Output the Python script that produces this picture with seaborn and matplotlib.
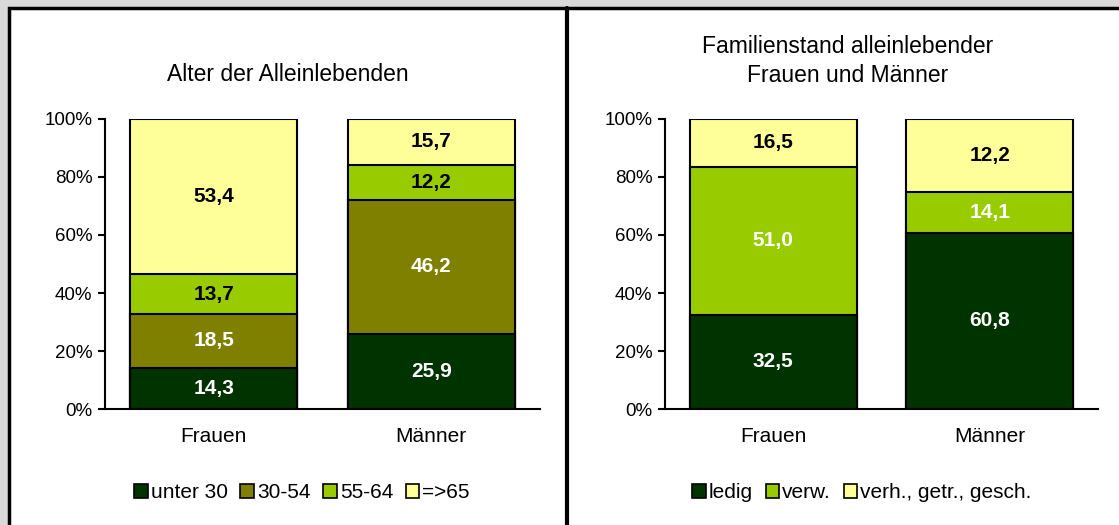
import matplotlib
matplotlib.use("Agg")
import matplotlib.pyplot as plt
import matplotlib.patches as mpatches
import seaborn as sns
import numpy as np
import pandas as pd

# chart data
categories = ["Frauen", "Männer"]

age_groups = ["unter 30", "30-54", "55-64", "=>65"]
age_values = {
    "unter 30": [14.3, 25.9],
    "30-54": [18.5, 46.2],
    "55-64": [13.7, 12.2],
    "=>65": [53.4, 15.7],
}

fam_groups = ["ledig", "verw.", "verh., getr., gesch."]
# segment heights as drawn in the original (top segment of Männer fills up to 100%)
fam_values = {
    "ledig": [32.5, 60.8],
    "verw.": [51.0, 14.1],
    "verh., getr., gesch.": [16.5, 25.1],
}
# labels as printed in the original
fam_labels = {
    "ledig": ["32,5", "60,8"],
    "verw.": ["51,0", "14,1"],
    "verh., getr., gesch.": ["16,5", "12,2"],
}

age_colors = ["#003300", "#808000", "#99cc00", "#ffff99"]
fam_colors = ["#003300", "#99cc00", "#ffff99"]
age_text = ["white", "white", "black", "black"]
fam_text = ["white", "white", "black"]

sns.set_style("white")
plt.rcParams["font.family"] = ["Liberation Sans", "DejaVu Sans"]
plt.rcParams["font.size"] = 13
plt.rcParams["text.color"] = "black"
plt.rcParams["xtick.color"] = "black"
plt.rcParams["ytick.color"] = "black"

W, H = 1119, 525
fig = plt.figure(figsize=(W / 100, H / 100), dpi=100, facecolor="#d9d9d9")

# white panels with black frame
fig.patches.append(mpatches.Rectangle((9 / W, -0.05), 1.1, 1 - 8 / H + 0.05,
                                      transform=fig.transFigure, facecolor="white",
                                      edgecolor="black", linewidth=2.5, zorder=-10))
fig.add_artist(plt.Line2D([567 / W, 567 / W], [0, 1 - 8 / H], transform=fig.transFigure,
                          color="black", linewidth=3, zorder=-5))


def stacked(ax, groups, values, colors, txtcolors, labels=None):
    df = pd.DataFrame(values, index=categories)[groups]
    cum = df.cumsum(axis=1)
    # draw from top down so lower segments overlay
    for g, c in reversed(list(zip(groups, colors))):
        sns.barplot(x=categories, y=cum[g].values, color=c, saturation=1, width=0.77,
                    edgecolor="black", linewidth=1.5, ax=ax)
    for gi, g in enumerate(groups):
        for i, cat in enumerate(categories):
            v = df.loc[cat, g]
            mid = cum.loc[cat, g] - v / 2
            lab = labels[g][i] if labels else f"{v:.1f}".replace(".", ",")
            ax.text(i, mid, lab, ha="center", va="center", fontweight="bold",
                    color=txtcolors[gi], fontsize=15)
    ax.set_xlim(-0.5, 1.5)
    ax.set_ylim(0, 100)
    ax.set_yticks(np.arange(0, 101, 20))
    ax.set_yticklabels([f"{t}%" for t in range(0, 101, 20)])
    ax.set_xticks([-0.5, 0.5, 1.5], minor=True)
    ax.tick_params(axis="x", which="major", length=0, pad=13, labelsize=15)
    ax.tick_params(axis="x", which="minor", direction="inout", length=10, width=1.5)
    ax.tick_params(axis="y", direction="out", length=5, width=1.5, pad=4, left=True,
                   labelsize=13.5)
    for s in ["top", "right"]:
        ax.spines[s].set_visible(False)
    for s in ["left", "bottom"]:
        ax.spines[s].set_color("black")
        ax.spines[s].set_linewidth(1.5)
    ax.set_xlabel("")
    ax.set_ylabel("")
    ax.patch.set_alpha(0)


bot = (H - 409) / H
hgt = 290 / H
ax1 = fig.add_axes([105 / W, bot, 435 / W, hgt])
ax2 = fig.add_axes([665 / W, bot, 433 / W, hgt])

stacked(ax1, age_groups, age_values, age_colors, age_text)
stacked(ax2, fam_groups, fam_values, fam_colors, fam_text, fam_labels)

fig.text(288 / W, 1 - 75 / H, "Alter der Alleinlebenden", ha="center", va="center", fontsize=16.5)
fig.text(848 / W, 1 - 61 / H, "Familienstand alleinlebender\nFrauen und Männer", ha="center",
         va="center", fontsize=16.5, linespacing=1.35)


def legend(groups, colors, xc):
    handles = [mpatches.Patch(facecolor=c, edgecolor="black", linewidth=1.2, label=g)
               for g, c in zip(groups, colors)]
    fig.legend(handles=handles, loc="center", bbox_to_anchor=(xc / W, 1 - 493 / H),
               ncol=len(groups), frameon=False, handlelength=0.65, handleheight=0.65,
               handletextpad=0.15, columnspacing=0.6, fontsize=15)


legend(age_groups, age_colors, 302)
legend(fam_groups, fam_colors, 862)

fig.savefig("out.png", dpi=100, facecolor=fig.get_facecolor())
